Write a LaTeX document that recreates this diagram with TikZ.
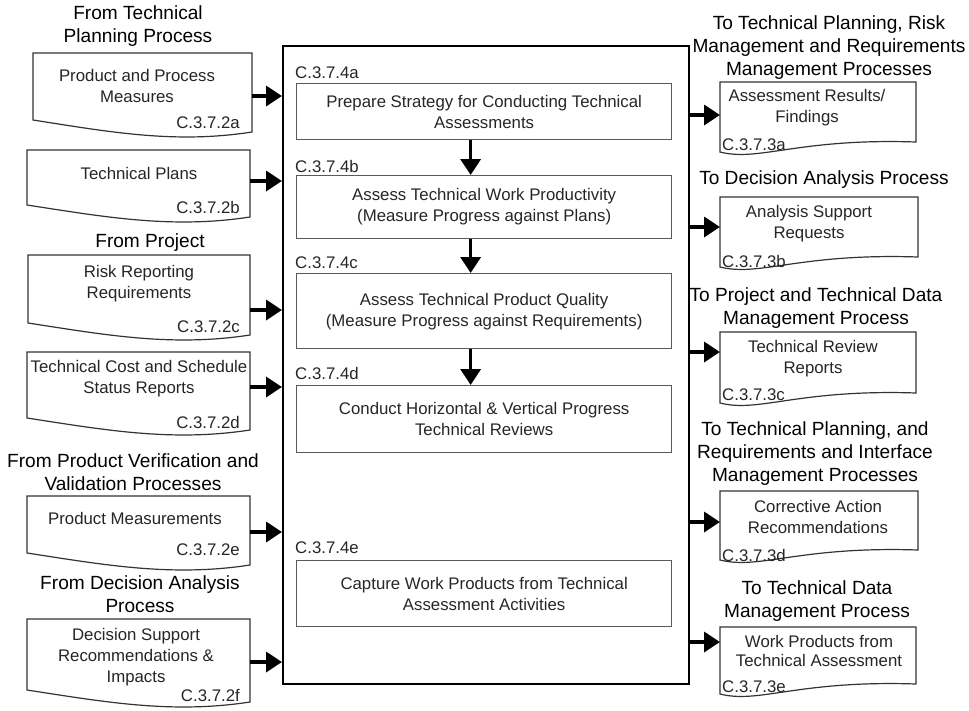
\documentclass[tikz,border=0pt]{standalone}
\usepackage{fontspec}
\setmainfont{Liberation Sans}
\usetikzlibrary{arrows.meta}
\newcommand\boxfont{\fontsize{16.8}{21}\selectfont}
\newcommand\headfont{\fontsize{19.1}{23}\selectfont}

\begin{document}
\begin{tikzpicture}[x=1pt,y=-1pt,
  doc/.style={draw=black!80, line width=1.2pt, fill=white},
  mainbox/.style={draw, line width=2pt, anchor=north west,
    minimum width=406pt, minimum height=638pt},
  stepbox/.style={draw=black!65, line width=1.3pt, anchor=north west,
    minimum width=375pt, align=center, font=\boxfont, text=black!85},
  txt/.style={align=center, font=\boxfont, inner sep=0pt, text=black!85},
  headtxt/.style={align=center, font=\headfont, inner sep=0pt},
  reflabel/.style={font=\boxfont, inner sep=0pt, text=black!85},
  flow/.style={line width=3.5pt, -{Triangle[width=20pt,length=16pt]}}]
\useasboundingbox (0,0) rectangle (969,710);
%
% Process box
\node [mainbox] (main) at (282,45) {};
%
% Steps
\node [stepbox, minimum height=56pt] (pa) at (296,83)
      {Prepare Strategy for Conducting Technical\\Assessments};
\node [stepbox, minimum height=63pt] (pb) at (296,175)
      {Assess Technical Work Productivity\\(Measure Progress against Plans)};
\node [stepbox, minimum height=75pt] (pc) at (296,273)
      {Assess Technical Product Quality\\(Measure Progress against Requirements)};
\node [stepbox, minimum height=67pt] (pd) at (296,385)
      {Conduct Horizontal \& Vertical Progress\\Technical Reviews};
\node [stepbox, minimum height=66pt] (pe) at (296,560)
      {Capture Work Products from Technical\\Assessment Activities};
\node [reflabel, anchor=west] (la) at (295,73)  {C.3.7.4a};
\node [reflabel, anchor=west] (lb) at (295,166) {C.3.7.4b};
\node [reflabel, anchor=west] (lc) at (295,263) {C.3.7.4c};
\node [reflabel, anchor=west] (ld) at (295,373) {C.3.7.4d};
\node [reflabel, anchor=west] (le) at (295,548) {C.3.7.4e};
\draw [flow] ([xshift=-13.5pt]pa.south) -- ([xshift=-13.5pt]pb.north);
\draw [flow] ([xshift=-13.5pt]pb.south) -- ([xshift=-13.5pt]pc.north);
\draw [flow] ([xshift=-13.5pt]pc.south) -- ([xshift=-13.5pt]pd.north);
%
% Inputs (documents)
\draw [doc] (33,53) -- (252,53) -- (252,132)
         .. controls (175,144) and (110,132) .. (33,120) -- cycle;
\draw [doc] (27,150) -- (250,150) -- (250,217)
         .. controls (172,229) and (105,217) .. (27,205) -- cycle;
\draw [doc] (28,255) -- (250,255) -- (250,335)
         .. controls (172,347) and (106,335) .. (28,323) -- cycle;
\draw [doc] (27,352) -- (250,352) -- (250,430)
         .. controls (172,442) and (105,430) .. (27,418) -- cycle;
\draw [doc] (27,496) -- (250,496) -- (250,565)
         .. controls (172,577) and (105,565) .. (27,553) -- cycle;
\draw [doc] (27,619) -- (250,619) -- (250,702)
         .. controls (172,714) and (105,702) .. (27,690) -- cycle;
%
\node [headtxt] (from-tp) at (138,26.5) {From Technical\\Planning Process};
\node [headtxt] (from-pr) at (150,243)  {From Project};
\node [headtxt] (from-vv) at (133,472)  {From Product Verification and\\Validation Processes};
\node [headtxt] (from-da) at (140,594)  {From Decision Analysis\\Process};
%
\node [txt] (pm)  at (137,85.5) {Product and Process\\Measures};
\node [txt] (tp)  at (139,173)  {Technical Plans};
\node [txt] (rr)  at (139,283.5){Risk Reporting\\Requirements};
\node [txt] (cs)  at (139,378.5){Technical Cost and Schedule\\Status Reports};
\node [txt] (pme) at (135,518)  {Product Measurements};
\node [txt] (ds)  at (136,657.5){Decision Support\\Recommendations \&\\Impacts};
\node [reflabel, anchor=east] (c2a) at (240,123) {C.3.7.2a};
\node [reflabel, anchor=east] (c2b) at (240,207) {C.3.7.2b};
\node [reflabel, anchor=east] (c2c) at (240,327) {C.3.7.2c};
\node [reflabel, anchor=east] (c2d) at (240,422) {C.3.7.2d};
\node [reflabel, anchor=east] (c2e) at (240,550) {C.3.7.2e};
\node [reflabel, anchor=east] (c2f) at (240,695) {C.3.7.2f};
%
\coordinate (pm-out)  at (252,96);
\coordinate (tp-out)  at (250,181);
\coordinate (rr-out)  at (250,310);
\coordinate (cs-out)  at (250,387);
\coordinate (pme-out) at (250,532);
\coordinate (ds-out)  at (250,662);
\foreach \c in {pm,tp,rr,cs,pme,ds}
  \draw [flow] (\c-out) -- (\c-out -| main.west);
%
% Outputs (documents)
\draw [doc] (720,82) -- (916,82) -- (916,142)
         .. controls (798,138) and (759,162) .. (720,152) -- cycle;
\draw [doc] (720,197) -- (918,197) -- (918,257)
         .. controls (799,253) and (760,277) .. (720,267) -- cycle;
\draw [doc] (720,332) -- (916,332) -- (916,393)
         .. controls (798,389) and (759,413) .. (720,403) -- cycle;
\draw [doc] (720,491) -- (918,491) -- (918,550)
         .. controls (799,546) and (760,570) .. (720,560) -- cycle;
\draw [doc] (720,627) -- (916,627) -- (916,684)
         .. controls (798,680) and (759,704) .. (720,694) -- cycle;
%
\node [headtxt] (to-tp)  at (829,47.5) {To Technical Planning, Risk\\Management and Requirements\\Management Processes};
\node [headtxt] (to-da)  at (824,180)  {To Decision Analysis Process};
\node [headtxt] (to-pd)  at (816,308)  {To Project and Technical Data\\Management Process};
\node [headtxt] (to-ri)  at (815,453.5){To Technical Planning, and\\Requirements and Interface\\Management Processes};
\node [headtxt] (to-dm)  at (817,601.5){To Technical Data\\Management Process};
%
\node [txt] (ar) at (807,107.5) {Assessment Results/\\Findings};
\node [txt] (as) at (809,223.5) {Analysis Support\\Requests};
\node [txt] (tr) at (813,359)   {Technical Review\\Reports};
\node [txt] (ca) at (818,517)   {Corrective Action\\Recommendations};
\node [txt, font=\fontsize{16.8}{18.5}\selectfont] (wp) at (819,651)
      {Work Products from\\Technical Assessment};
\node [reflabel, anchor=west] (c3a) at (722,145) {C.3.7.3a};
\node [reflabel, anchor=west] (c3b) at (722,261) {C.3.7.3b};
\node [reflabel, anchor=west] (c3c) at (722,395) {C.3.7.3c};
\node [reflabel, anchor=west] (c3d) at (722,555) {C.3.7.3d};
\node [reflabel, anchor=west] (c3e) at (722,687) {C.3.7.3e};
%
\coordinate (ar-in) at (720,115);
\coordinate (as-in) at (720,227);
\coordinate (tr-in) at (720,352);
\coordinate (ca-in) at (720,522);
\coordinate (wp-in) at (720,642);
\foreach \c in {ar,as,tr,ca,wp}
  \draw [flow] (\c-in -| main.east) -- (\c-in);
%
\end{tikzpicture}
\end{document}
